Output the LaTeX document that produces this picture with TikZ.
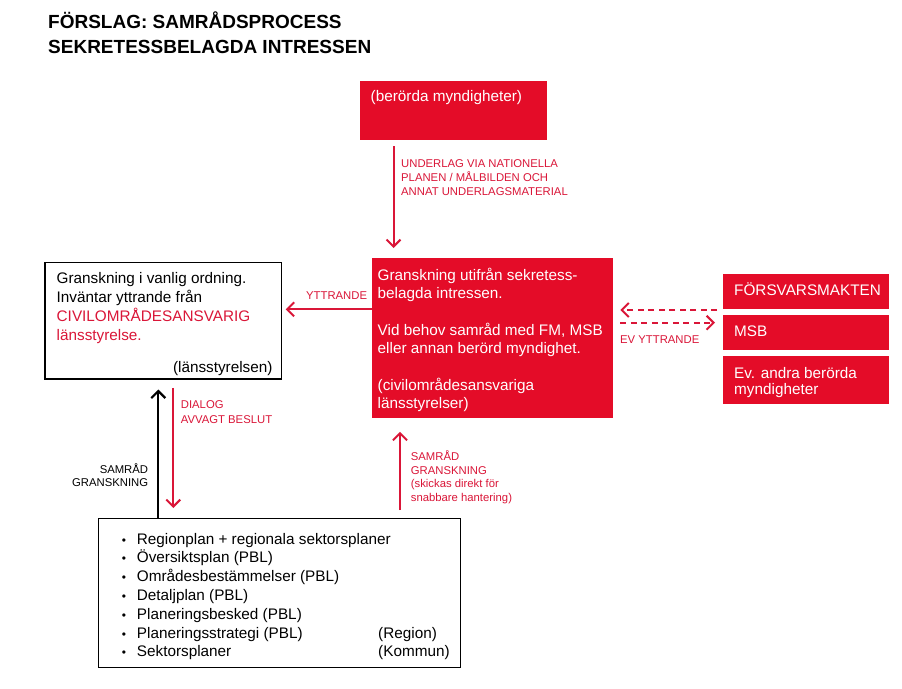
\documentclass[tikz,border=0pt]{standalone}
\usepackage{fontspec}
\setmainfont{Liberation Sans}
\usetikzlibrary{arrows.meta}
\definecolor{sred}{RGB}{228,12,40}
\definecolor{lred}{RGB}{218,22,56}
\begin{document}
\begin{tikzpicture}[x=1pt,y=-1pt,
  txt/.style={anchor=base west, inner sep=0pt, font=\fontsize{15.3}{18}\selectfont},
  rtxt/.style={txt, anchor=base east},
  wtxt/.style={txt, text=white},
  ttl/.style={anchor=base west, inner sep=0pt, font=\fontsize{19}{22}\selectfont\bfseries},
  lbl/.style={anchor=base west, inner sep=0pt, font=\fontsize{11.3}{13}\selectfont, text=lred},
  blbl/.style={anchor=base east, inner sep=0pt, font=\fontsize{11.3}{13}\selectfont},
  redbox/.style={fill=sred, draw=none, inner sep=0pt, anchor=north west},
  whitebox/.style={draw=black, line width=1.2pt, fill=white, inner sep=0pt, anchor=north west},
  redarr/.style={draw=lred, line width=2pt, -{Straight Barb[length=7pt,width=14pt]}},
  blkarr/.style={draw=black, line width=2.2pt, -{Straight Barb[length=7pt,width=14pt]}},
  dsh/.style={dash pattern=on 6pt off 4.5pt},
  bul/.style={anchor=base west, inner sep=0pt, font=\fontsize{12}{18}\selectfont}
]
\fill[white] (0,0) rectangle (902,688);
\useasboundingbox (0,0) rectangle (902,688);

% title
\node[ttl] (t1) at (48,28.3) {FÖRSLAG: SAMRÅDSPROCESS};
\node[ttl] (t2) at (48,53.3) {SEKRETESSBELAGDA INTRESSEN};

% boxes
\node[redbox, minimum width=187pt, minimum height=59.5pt] (top) at (360,80.5) {};
\node[redbox, minimum width=241pt, minimum height=159.5pt] (center) at (372,258) {};
\node[whitebox, minimum width=236.7pt, minimum height=116.6pt] (left) at (44.3,261.7) {};
\node[redbox, minimum width=165.3pt, minimum height=35pt] (fm) at (723,273.3) {};
\node[redbox, minimum width=165.3pt, minimum height=35pt] (msb) at (723,315) {};
\node[redbox, minimum width=165.3pt, minimum height=48pt] (ev) at (723,356) {};
\node[whitebox, minimum width=362.5pt, minimum height=149pt] (bottom) at (97.5,518) {};

% top box text
\node[wtxt] (toptxt) at (370.5,101.7) {(berörda myndigheter)};

% center box text
\node[wtxt] (c1) at (377.5,280) {Granskning utifrån sekretess-};
\node[wtxt] (c2) at (377.5,298.3) {belagda intressen.};
\node[wtxt] (c3) at (377.5,335) {Vid behov samråd med FM, MSB};
\node[wtxt] (c4) at (377.5,353) {eller annan berörd myndighet.};
\node[wtxt] (c5) at (377.5,390.7) {(civilområdesansvariga};
\node[wtxt] (c6) at (377.5,408) {länsstyrelser)};

% left box text
\node[txt] (l1) at (56.5,283.3) {Granskning i vanlig ordning.};
\node[txt] (l2) at (56.5,302.7) {Inväntar yttrande från};
\node[txt, text=lred] (l3) at (56.5,321) {CIVILOMRÅDESANSVARIG};
\node[txt, text=lred] (l4) at (56.5,340) {länsstyrelse.};
\node[rtxt] (l5) at (272.7,372.7) {(länsstyrelsen)};

% right boxes text
\node[wtxt] (fmtxt) at (734,295) {FÖRSVARSMAKTEN};
\node[wtxt] (msbtxt) at (734,336) {MSB};
\node[wtxt] (ev1) at (734,378) {Ev. andra berörda};
\node[wtxt] (ev2) at (734,394.5) {myndigheter};

% bottom box text
\foreach \i/\yy/\t in {1/544/{Regionplan + regionala sektorsplaner},
                       2/562.8/{Översiktsplan (PBL)},
                       3/581.6/{Områdesbestämmelser (PBL)},
                       4/600.4/{Detaljplan (PBL)},
                       5/619.2/{Planeringsbesked (PBL)},
                       6/638/{Planeringsstrategi (PBL)},
                       7/656.8/{Sektorsplaner}} {
  \node[bul] (bu\i) at (121.7,\yy) {\textbullet};
  \node[txt] (bt\i) at (136.7,\yy) {\t};
}
\node[txt] (reg) at (378,638) {(Region)};
\node[txt] (kom) at (378,656.8) {(Kommun)};

% labels
\node[lbl] (u1) at (401,167) {UNDERLAG VIA NATIONELLA};
\node[lbl] (u2) at (401,181) {PLANEN / MÅLBILDEN OCH};
\node[lbl] (u3) at (401,195) {ANNAT UNDERLAGSMATERIAL};
\node[lbl] (ytt) at (306,299.3) {YTTRANDE};
\node[lbl] (evy) at (620,343) {EV YTTRANDE};
\node[lbl] (d1) at (180.7,408.3) {DIALOG};
\node[lbl] (d2) at (180.7,423.3) {AVVAGT BESLUT};
\node[blbl] (s1) at (148.3,473.3) {SAMRÅD};
\node[blbl] (s2) at (148.3,486.7) {GRANSKNING};
\node[lbl] (r1) at (410.7,460) {SAMRÅD};
\node[lbl] (r2) at (410.7,474) {GRANSKNING};
\node[lbl] (r3) at (410.7,487.5) {(skickas direkt för};
\node[lbl] (r4) at (410.7,501) {snabbare hantering)};

% connector helper coordinates
\coordinate (xa) at (393.5,0);
\coordinate (yy) at (0,309.3);
\coordinate (dy1) at (0,310);
\coordinate (dy2) at (0,322.7);
\coordinate (xb) at (158.3,0);
\coordinate (xr) at (173.3,0);
\coordinate (xu) at (400,0);

% connectors
\draw[redarr, shorten <=6pt, shorten >=10pt] (top.south -| xa) -- (center.north -| xa);
\draw[redarr, shorten >=3.5pt] (center.west |- yy) -- (left.east |- yy);
\draw[redarr, dsh, shorten <=6pt, shorten >=7pt] (fm.west |- dy1) -- (center.east |- dy1);
\draw[redarr, dsh, shorten <=7pt, shorten >=8pt] (center.east |- dy2) -- (msb.west |- dy2);
\draw[blkarr, shorten >=10pt] (bottom.north -| xb) -- (left.south -| xb);
\draw[redarr, shorten <=8.4pt, shorten >=10pt] (left.south -| xr) -- (bottom.north -| xr);
\draw[redarr, shorten <=8pt, shorten >=14pt] (bottom.north -| xu) -- (center.south -| xu);
\end{tikzpicture}
\end{document}
